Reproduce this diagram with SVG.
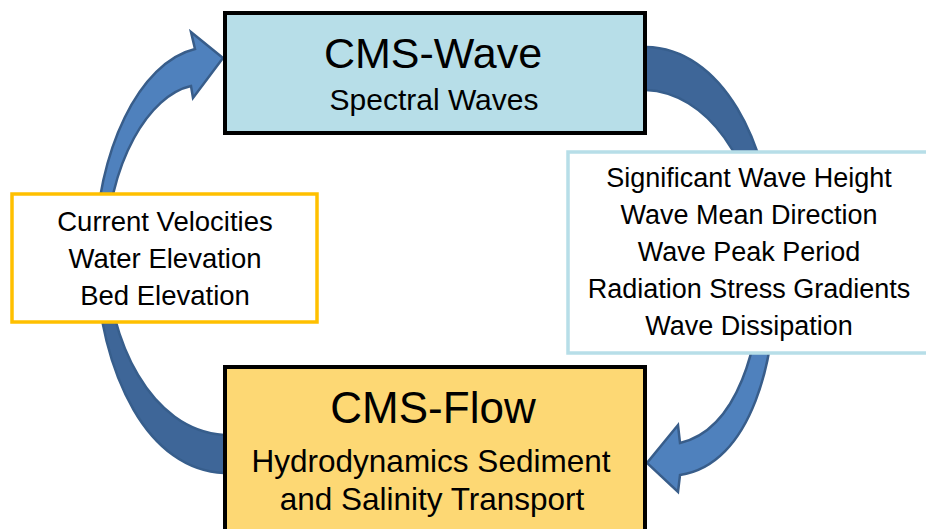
<svg xmlns="http://www.w3.org/2000/svg" width="926" height="529" viewBox="0 0 926 529">
<style>
  .t { font-family: "Liberation Sans", Arial, sans-serif; fill: #000; text-anchor: middle; }
  .light { fill: #4F81BD; stroke: #385D8A; stroke-width: 2.5; stroke-linejoin: miter; }
  .dark { fill: #3E6698; stroke: #375E8C; stroke-width: 2.5; stroke-linejoin: miter; }
  .main { stroke: #000; stroke-width: 4; }
</style>
<rect width="926" height="529" fill="#fff"/>
<g id="connectors">
  <path class="light" d="M95,255 C96,150 140,62 195,49 L191,32 L223,58 L193,98 L191,86 C150,95 108,160 106,255 Z"/>
  <path class="dark" d="M95,255 C100,380 150,470 224,473 L232,473 L232,435 L224,435 C150,430 108,340 106,255 Z"/>
  <path class="dark" d="M638,47 L646,47 C720,48 772,140 775,255 L760,255 C758,160 705,92 646,90 L638,90 Z"/>
  <path class="light" d="M775,255 C780,360 750,465 680,475 L678,492 L647,463 L678,425 L680,443 C735,430 764,350 760,255 Z"/>
</g>
<g id="cms-wave">
  <rect class="main" x="225" y="13" width="420" height="120" fill="#B7DEE8"/>
  <text class="t" x="433" y="68" font-size="43">CMS-Wave</text>
  <text class="t" x="434" y="110" font-size="30">Spectral Waves</text>
</g>
<g id="cms-flow">
  <rect class="main" x="225" y="367" width="420" height="175" fill="#FDD874"/>
  <text class="t" x="433" y="423" font-size="44">CMS-Flow</text>
  <text class="t" x="431" y="472" font-size="31.5">Hydrodynamics Sediment</text>
  <text class="t" x="432" y="510" font-size="31.5">and Salinity Transport</text>
</g>
<g id="flow-outputs">
  <rect x="12" y="194" width="305" height="128" fill="#fff" stroke="#FFC000" stroke-width="3.5"/>
  <text class="t" x="165" y="231" font-size="27.5">Current Velocities</text>
  <text class="t" x="165" y="268" font-size="27.5">Water Elevation</text>
  <text class="t" x="165" y="305" font-size="27.5">Bed Elevation</text>
</g>
<g id="wave-outputs">
  <rect x="568" y="152" width="370" height="201" fill="#fff" stroke="#B7DEE8" stroke-width="3.5"/>
  <text class="t" x="749" y="187" font-size="27">Significant Wave Height</text>
  <text class="t" x="749" y="224" font-size="27">Wave Mean Direction</text>
  <text class="t" x="749" y="261" font-size="27">Wave Peak Period</text>
  <text class="t" x="749" y="298" font-size="27">Radiation Stress Gradients</text>
  <text class="t" x="749" y="335" font-size="27">Wave Dissipation</text>
</g>
</svg>
